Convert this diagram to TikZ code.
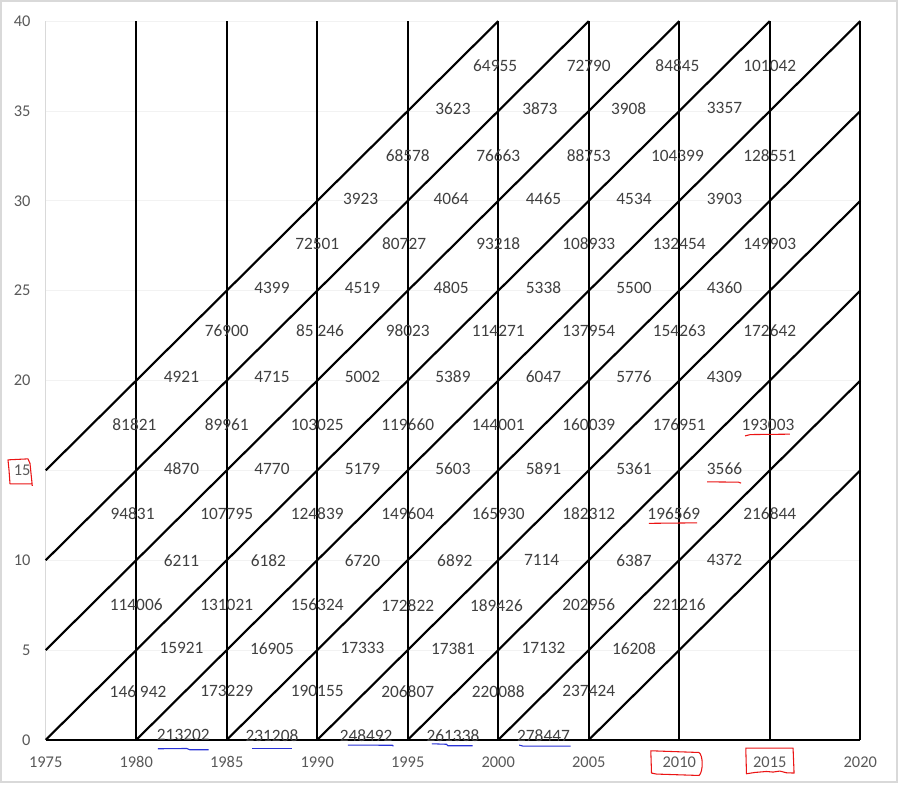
\documentclass[tikz,border=0pt]{standalone}
\usepackage{fontspec}
\setmainfont{Carlito}
\definecolor{inkc}{RGB}{64,64,64}
\definecolor{tickc}{RGB}{89,89,89}
\definecolor{gridc}{RGB}{242,242,242}
\definecolor{axisc}{RGB}{217,217,217}
\definecolor{redc}{RGB}{235,20,20}
\definecolor{bluec}{RGB}{40,50,215}
\tikzset{
  val/.style={font=\fontsize{13}{15}\selectfont, text=inkc, inner sep=0pt},
  ticklbl/.style={font=\fontsize{12.3}{15}\selectfont, text=tickc, inner sep=0pt},
  gridln/.style={draw=gridc, line width=0.75pt},
  period/.style={draw=black, line width=1.2pt},
  cohort/.style={draw=black, line width=1.6pt},
  redmark/.style={draw=redc, line width=0.8pt, line join=round},
  bluemark/.style={draw=bluec, line width=0.8pt, line join=round},
}
\begin{document}
\begin{tikzpicture}[x=13.58pt, y=13.48pt]
  % page is 899 x 785 px, origin at (1975, 0)
  \useasboundingbox (-2.525,-2.504) rectangle (47.14,41.18);
  \fill[white] (-2.525,-2.504) rectangle (47.14,41.18);
  \coordinate (tl) at (-2.525,41.18);

  % grid and axes
  \foreach \a in {5,10,...,40}
    \draw[gridln] (0,\a) -- (45,\a);
  \draw[axisc, line width=0.75pt] (0,0) -- (0,40);
  \foreach \yr in {1980,1985,...,2020}
    \draw[period] (\yr-1975,0) -- (\yr-1975,40);
  \foreach \k in {-15,-10,...,30} {
    \pgfmathsetmacro\xa{max(0,\k)}
    \pgfmathsetmacro\ya{max(0,-\k)}
    \pgfmathsetmacro\xb{min(45,40+\k)}
    \pgfmathsetmacro\yb{min(40,45-\k)}
    \draw[cohort] (\xa,\ya) -- (\xb,\yb);
  }
  \draw[black, line width=1.5pt] (0,0) -- (45,0);

  % tick labels
  \foreach \a in {0,5,...,40}
    \node[ticklbl, anchor=east] (y\a) at (-0.83,\a) {\a};
  \foreach \yr in {1975,1980,...,2020}
    \node[ticklbl] (x\yr) at (\yr-1975,-1.24) {\yr};

  % counts, row by row
  \foreach \yr/\v [count=\i] in {1999.83/64955, 2005/72790, 2009.9/84845, 2015/101042}
    \node[val] (r40-\i) at (\yr-1975,37.5) {\v};
  \foreach \yr/\v [count=\i] in {1997.5/3623, 2002.3/3873, 2007.2/3908, 2012.5/3357}
    \node[val] (r35-\i) at (\yr-1975,35.15) {\v};
  \foreach \yr/\v [count=\i] in {1995/68578, 2000/76663, 2005/88753, 2009.9/104399, 2015/128551}
    \node[val] (r33-\i) at (\yr-1975,32.5) {\v};
  \foreach \yr/\v [count=\i] in {1992.4/3923, 1997.4/4064, 2002.5/4465, 2007.5/4534, 2012.5/3903}
    \node[val] (r30-\i) at (\yr-1975,30.1) {\v};
  \foreach \yr/\v [count=\i] in {1990/72501, 1994.8/80727, 2000/93218, 2005/108933, 2010/132454, 2015/149903}
    \node[val] (r28-\i) at (\yr-1975,27.6) {\v};
  \foreach \yr/\v [count=\i] in {1987.5/4399, 1992.5/4519, 1997.4/4805, 2002.5/5338, 2007.5/5500, 2012.5/4360}
    \node[val] (r25-\i) at (\yr-1975,25.15) {\v};
  \foreach \yr/\v [count=\i] in {1985/76900, 1990.15/85 246, 1995/98023, 2000/114271, 2005/137954, 2010/154263, 2015/172642}
    \node[val] (r23-\i) at (\yr-1975,22.75) {\v};
  \foreach \yr/\v [count=\i] in {1982.5/4921, 1987.5/4715, 1992.5/5002, 1997.5/5389, 2002.5/6047, 2007.5/5776, 2012.5/4309}
    \node[val] (r20-\i) at (\yr-1975,20.2) {\v};
  \foreach \yr/\v [count=\i] in {1979.9/81821, 1985/89961, 1990/103025, 1995/119660, 2000/144001, 2005/160039, 2010/176951, 2014.9/193003}
    \node[val] (r18-\i) at (\yr-1975,17.55) {\v};
  \foreach \yr/\v [count=\i] in {1982.5/4870, 1987.5/4770, 1992.5/5179, 1997.5/5603, 2002.5/5891, 2007.5/5361, 2012.5/3566}
    \node[val] (r15-\i) at (\yr-1975,15.1) {\v};
  \foreach \yr/\v [count=\i] in {1979.8/94831, 1985/107795, 1990/124839, 1995/149604, 2000/165930, 2005/182312, 2009.7/196569, 2015/216844}
    \node[val] (r13-\i) at (\yr-1975,12.6) {\v};
  \foreach \yr/\v [count=\i] in {1982.5/6211, 1987.3/6182, 1992.5/6720, 1997.6/6892, 2002.4/7114, 2007.5/6387, 2012.5/4372}
    \node[val] (r10-\i) at (\yr-1975,10) {\v};
  \foreach \yr/\v [count=\i] in {1980/114006, 1985/131021, 1990/156324, 1995/172822, 1999.9/189426, 2005/202956, 2010/221216}
    \node[val] (r08-\i) at (\yr-1975,7.5) {\v};
  \foreach \yr/\v [count=\i] in {1982.5/15921, 1987.5/16905, 1992.5/17333, 1997.5/17381, 2002.5/17132, 2007.5/16208}
    \node[val] (r05-\i) at (\yr-1975,5.1) {\v};
  \foreach \yr/\v [count=\i] in {1980.1/146 942, 1985/173229, 1990/190155, 1995/206807, 2000/220088, 2005/237424}
    \node[val] (r03-\i) at (\yr-1975,2.7) {\v};
  \foreach \yr/\v [count=\i] in {1982.6/213202, 1987.5/231208, 1992.7/248492, 1997.5/261338, 2002.5/278447}
    \node[val] (r00-\i) at (\yr-1975,0.25) {\v};

  % chart frame and hand marks, in page pixels
  \begin{scope}[shift={(tl)}, x=0.75pt, y=-0.75pt]
    \draw[axisc, line width=1.5pt] (1,1) rectangle (897.3,782.7);
    \draw[redmark] (32.7,484) -- (10,484) -- (9,470) -- (8,460) -- (28,459) -- (30,463.5) -- (32.3,486);
    \draw[redmark] (745.3,436) -- (750.7,434.7) -- (790,434.3);
    \draw[redmark] (707.3,482) -- (738.7,482.3) -- (741.3,483.3);
    \draw[redmark] (649,523.5) -- (697.3,523);
    \draw[redmark] (651,751) -- (699,752.7) .. controls (703.5,755) and (703.5,772) .. (699.3,775.7)
      -- (656.7,774.3) -- (651.7,773.3) -- cycle;
    \draw[redmark] (746,748.3) -- (793.3,748.3) -- (794.3,773.3) -- (786.7,773) -- (780,771.3)
      -- (773.3,772.3) -- (766.7,771.7) -- (755,772.7) -- (746.7,774) -- cycle;
    \draw[bluemark] (158,749) -- (186.7,748.7) -- (190,750) -- (208.7,750);
    \draw[bluemark] (252,748.3) -- (292,748.3);
    \draw[bluemark] (348,745.3) -- (392.7,745.5) -- (393.5,746.5);
    \draw[bluemark] (432,744) -- (446.7,744.5) -- (448,746) -- (472.7,746);
    \draw[bluemark] (519.3,745.3) -- (523,746.3) -- (570.7,746.3);
  \end{scope}
\end{tikzpicture}
\end{document}
